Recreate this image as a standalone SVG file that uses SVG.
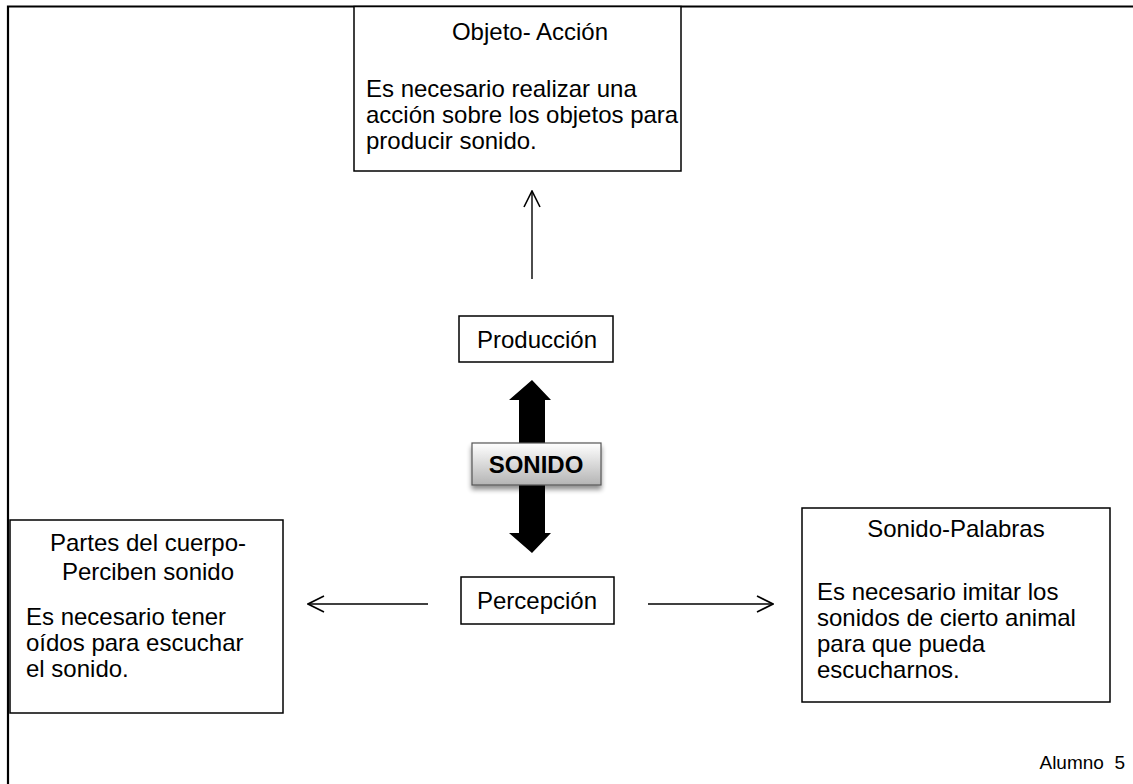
<svg xmlns="http://www.w3.org/2000/svg" width="1133" height="784" viewBox="0 0 1133 784">
  <style>
    .box { fill: #ffffff; stroke: #000000; stroke-width: 1.5; }
    .t { font-family: "Liberation Sans", Arial, sans-serif; font-size: 24px; fill: #000000; }
    .mid { text-anchor: middle; }
    .bold { font-weight: bold; }
    .small { font-size: 19px; }
    .conn { stroke: #000000; stroke-width: 1.4; fill: none; marker-end: url(#open); }
  </style>
  <defs>
    <marker id="open" viewBox="0 0 18 18" refX="17" refY="9" markerWidth="18" markerHeight="18" markerUnits="userSpaceOnUse" orient="auto">
      <path d="M1,1 L17,9 L1,17" fill="none" stroke="#000000" stroke-width="1.6"/>
    </marker>
    <linearGradient id="grey" x1="0" y1="0" x2="0" y2="1">
      <stop offset="0" stop-color="#ffffff"/>
      <stop offset="1" stop-color="#b4b4b4"/>
    </linearGradient>
    <filter id="shadow" x="-20%" y="-30%" width="140%" height="180%">
      <feGaussianBlur in="SourceAlpha" stdDeviation="2.5"/>
      <feOffset dx="0" dy="4" result="b"/>
      <feComponentTransfer><feFuncA type="linear" slope="0.45"/></feComponentTransfer>
      <feMerge><feMergeNode/><feMergeNode in="SourceGraphic"/></feMerge>
    </filter>
  </defs>

  <rect width="1133" height="784" fill="#ffffff"/>

  <!-- page frame -->
  <path d="M8,784 L8,6.5 L1133,6.5" fill="none" stroke="#000000" stroke-width="2.2"/>

  <!-- connectors -->
  <g id="connectors">
    <line class="conn" x1="532" y1="279" x2="532" y2="191"/>
    <line class="conn" x1="428" y1="604" x2="308" y2="604"/>
    <line class="conn" x1="648" y1="604" x2="773" y2="604"/>
    <!-- thick double arrow through the centre -->
    <path d="M532,380 L551,400 L545,400 L545,533 L551,533 L532,553 L509,533 L519,533 L519,400 L509,400 Z" fill="#000000"/>
  </g>

  <g id="objeto-accion">
    <rect class="box" x="354" y="6.5" width="327" height="164.5"/>
    <text class="t mid" x="530" y="40">Objeto- Acción</text>
    <text class="t" x="366" y="97">Es necesario realizar una</text>
    <text class="t" x="366" y="123">acción sobre los objetos para</text>
    <text class="t" x="366" y="149">producir sonido.</text>
  </g>

  <g id="produccion">
    <rect class="box" x="459" y="316" width="154" height="46"/>
    <text class="t mid" x="537" y="348">Producción</text>
  </g>

  <g id="sonido">
    <rect x="472" y="443" width="129" height="42" fill="url(#grey)" stroke="#555555" stroke-width="1.2" filter="url(#shadow)"/>
    <text class="t mid bold" x="536" y="473">SONIDO</text>
  </g>

  <g id="percepcion">
    <rect class="box" x="461" y="577" width="153" height="47"/>
    <text class="t mid" x="537" y="609">Percepción</text>
  </g>

  <g id="partes-cuerpo">
    <rect class="box" x="10" y="520" width="273" height="193"/>
    <text class="t mid" x="148" y="551">Partes del cuerpo-</text>
    <text class="t mid" x="148" y="580">Perciben sonido</text>
    <text class="t" x="26" y="625">Es necesario tener</text>
    <text class="t" x="26" y="651">oídos para escuchar</text>
    <text class="t" x="26" y="677">el sonido.</text>
  </g>

  <g id="sonido-palabras">
    <rect class="box" x="802" y="508" width="308" height="194"/>
    <text class="t mid" x="956" y="537">Sonido-Palabras</text>
    <text class="t" x="817" y="600">Es necesario imitar los</text>
    <text class="t" x="817" y="626">sonidos de cierto animal</text>
    <text class="t" x="817" y="652">para que pueda</text>
    <text class="t" x="817" y="678">escucharnos.</text>
  </g>

  <text class="t small" x="1125" y="769" text-anchor="end" xml:space="preserve">Alumno  5</text>
</svg>
